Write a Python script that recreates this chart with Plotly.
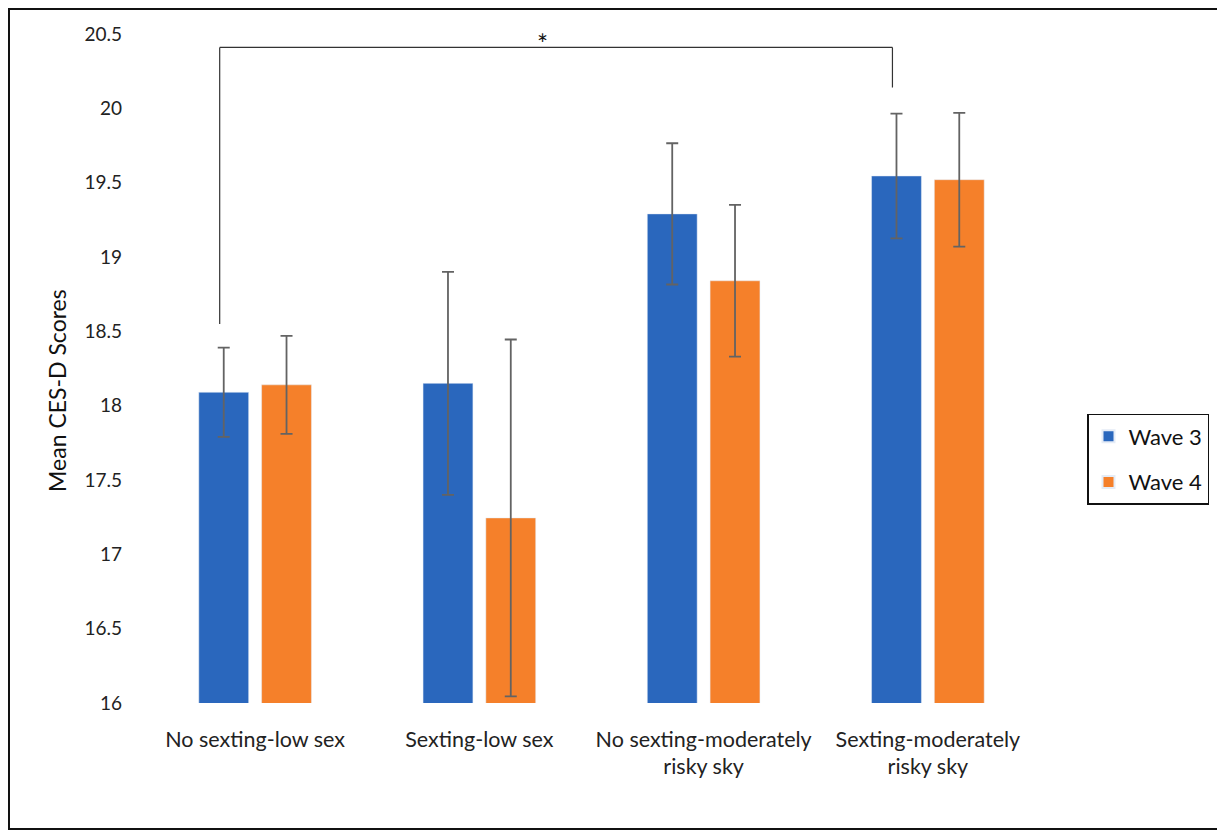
import plotly.graph_objects as go

categories = ["No sexting-low sex", "Sexting-low sex", "No sexting-moderately<br>risky sky", "Sexting-moderately<br>risky sky"]
wave3 = [18.09, 18.15, 19.29, 19.545]
wave3_err = [0.30, 0.75, 0.475, 0.42]
wave4 = [18.14, 17.245, 18.84, 19.52]
wave4_err = [0.33, 1.20, 0.51, 0.45]
y_ticks = [16, 16.5, 17, 17.5, 18, 18.5, 19, 19.5, 20, 20.5]
y_title = "Mean CES-D Scores"

FONT = "Lato, 'Open Sans', sans-serif"
err_style = dict(type="data", color="#636363", thickness=1.8, width=6)

fig = go.Figure()
fig.add_trace(go.Bar(name="Wave 3", x=categories, y=wave3, marker_color="#2a67bd",
                     legendgroup="w3", error_y=dict(array=wave3_err, **err_style)))
fig.add_trace(go.Bar(name="Wave 4", x=categories, y=wave4, marker_color="#f5802a",
                     legendgroup="w4", error_y=dict(array=wave4_err, **err_style)))

# significance bracket
left_x, right_x = -0.158, 3 - 0.158
line_style = dict(color="#333", width=1.2)
fig.add_shape(type="line", xref="x", yref="y", x0=left_x, x1=left_x, y0=18.55, y1=20.41, line=line_style)
fig.add_shape(type="line", xref="x", yref="y", x0=left_x, x1=right_x, y0=20.41, y1=20.41, line=line_style)
fig.add_shape(type="line", xref="x", yref="y", x0=right_x, x1=right_x, y0=20.14, y1=20.41, line=line_style)
fig.add_annotation(x=1.28, y=20.43, xref="x", yref="y", text="*", showarrow=False,
                   font=dict(size=26, color="#111", family=FONT))

# y-axis title
fig.add_annotation(x=-0.0959, y=0.468, xref="paper", yref="paper", text=y_title,
                   textangle=-90, showarrow=False, xanchor="center", yanchor="middle",
                   font=dict(size=23, color="#111", family=FONT))

# outer frame
fig.add_shape(type="rect", xref="paper", yref="paper", x0=-0.1494, x1=1.1996, y0=-0.1883, y1=1.0374,
              line=dict(color="#111", width=2))

fig.update_layout(
    width=1217, height=824,
    margin=dict(l=135, r=185, t=26, b=129),
    paper_bgcolor="white", plot_bgcolor="white",
    barmode="group", bargap=0.44, bargroupgap=0.206,
    font=dict(family=FONT, color="#222", size=19),
    showlegend=True,
    legend=dict(x=1.0524, y=0.432, xanchor="left", yanchor="top",
                bordercolor="#111", borderwidth=1.5, font=dict(size=22, color="#111"),
                itemsizing="constant", tracegroupgap=14),
    xaxis=dict(showgrid=False, showline=False, ticks="", tickfont=dict(size=21.5),
               ticklabelstandoff=21, range=[-0.5, 3.5]),
    yaxis=dict(range=[16, 20.5], tickvals=y_ticks, ticktext=[f"{v:g}" for v in y_ticks],
               showgrid=False, showline=False, zeroline=False, ticks="",
               tickfont=dict(size=19), ticklabelstandoff=20),
)

fig.write_html("out.html")
